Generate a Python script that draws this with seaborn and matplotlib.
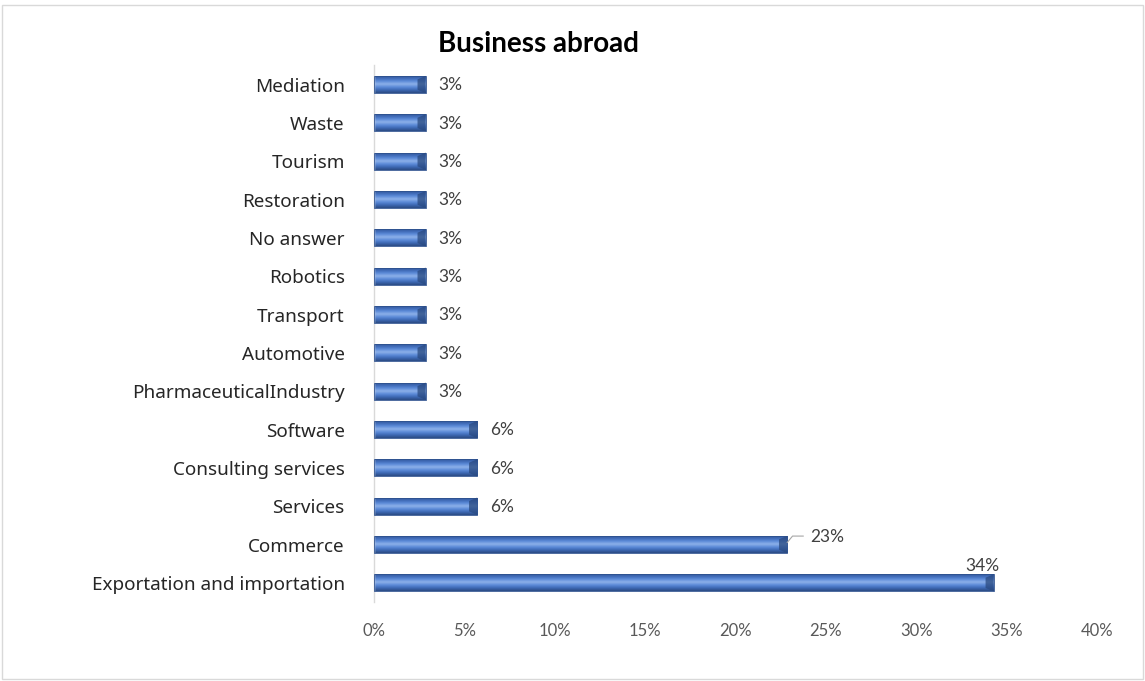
import matplotlib
matplotlib.use("Agg")
import matplotlib.pyplot as plt
import numpy as np
import pandas as pd
import seaborn as sns
from matplotlib.patches import Rectangle

categories = [
    "Mediation", "Waste", "Tourism", "Restoration", "No answer", "Robotics",
    "Transport", "Automotive", "PharmaceuticalIndustry", "Software",
    "Consulting services", "Services", "Commerce", "Exportation and importation",
]
# share of respondents, in percent
shares = [2.86, 2.86, 2.86, 2.86, 2.86, 2.86, 2.86, 2.86, 2.86,
          5.71, 5.71, 5.71, 22.86, 34.29]
x_ticks = [0, 5, 10, 15, 20, 25, 30, 35, 40]

df = pd.DataFrame({"sector": categories, "share": shares})

sns.set_theme(style="white")
plt.rcParams["font.family"] = ["Lato", "DejaVu Sans"]

fig = plt.figure(figsize=(11.45, 6.81), dpi=100)
ax = fig.add_axes([0.3266, 0.116, 0.6314, 0.788])

sns.barplot(data=df, x="share", y="sector", orient="h", color="#4472C4",
            width=0.45, ax=ax, saturation=1)

# vertical gradient + bevelled right end on each bar
grad = np.linspace(0, 1, 64).reshape(-1, 1)
cmap = matplotlib.colors.LinearSegmentedColormap.from_list(
    "bev", ["#2F528F", "#3E69B5", "#5B8AD8", "#8FB2EA", "#5B8AD8", "#3E69B5", "#2A4A82"])
for p in list(ax.patches):
    x0, y0 = p.get_x(), p.get_y()
    w, h = p.get_width(), p.get_height()
    im = ax.imshow(grad, extent=[x0, x0 + w, y0 + h, y0], aspect="auto",
                   cmap=cmap, zorder=2, interpolation="bicubic")
    im.set_clip_path(p)
    p.set_facecolor("none")
    p.set_edgecolor("#2F528F")
    p.set_linewidth(0.6)
    p.set_zorder(3)
    cap = 0.45
    ax.fill([x0 + w - cap, x0 + w, x0 + w, x0 + w - cap],
            [y0 + h * 0.2, y0, y0 + h, y0 + h * 0.8],
            color="#2A4A80", alpha=0.75, zorder=3, lw=0)

# value labels
for i, v in enumerate(shares):
    label = f"{v:.0f}%"
    if v > 30:
        ax.text(v - 0.6, i - 0.45, label, ha="center", va="center",
                fontsize=12.5, color="#404040")
    elif v > 20:
        ax.plot([v, v + 0.3, v + 0.9], [i - 0.05, i - 0.22, i - 0.22],
                color="#A6A6A6", lw=0.8, zorder=4)
        ax.text(v + 1.3, i - 0.2, label, ha="left", va="center",
                fontsize=12.5, color="#404040")
    else:
        ax.text(v + 0.7, i + 0.02, label, ha="left", va="center",
                fontsize=12.5, color="#404040")

ax.set_xlim(0, 40)
ax.set_ylim(13.5, -0.5)
ax.set_xticks(x_ticks)
ax.set_xticklabels([f"{t}%" for t in x_ticks], fontsize=12, color="#595959")
ax.tick_params(axis="x", length=0, pad=15)
ax.tick_params(axis="y", length=0, pad=21)
for t in ax.get_yticklabels():
    t.set_fontfamily(["Noto Sans", "DejaVu Sans"])
    t.set_fontsize(13.6)
    t.set_color("#262626")
ax.set_xlabel("")
ax.set_ylabel("")
for s in ["top", "right", "bottom"]:
    ax.spines[s].set_visible(False)
ax.spines["left"].set_color("#D9D9D9")
ax.spines["left"].set_linewidth(1)

fig.text(0.47, 0.935, "Business abroad", ha="center", va="center",
         fontsize=20, fontweight="bold", color="#000000")

# light frame around the chart area
fig.add_artist(Rectangle((0.002, 0.003), 0.996, 0.99, transform=fig.transFigure,
                         fill=False, edgecolor="#D9D9D9", lw=1))

fig.savefig("out.png", dpi=100, facecolor="white")
